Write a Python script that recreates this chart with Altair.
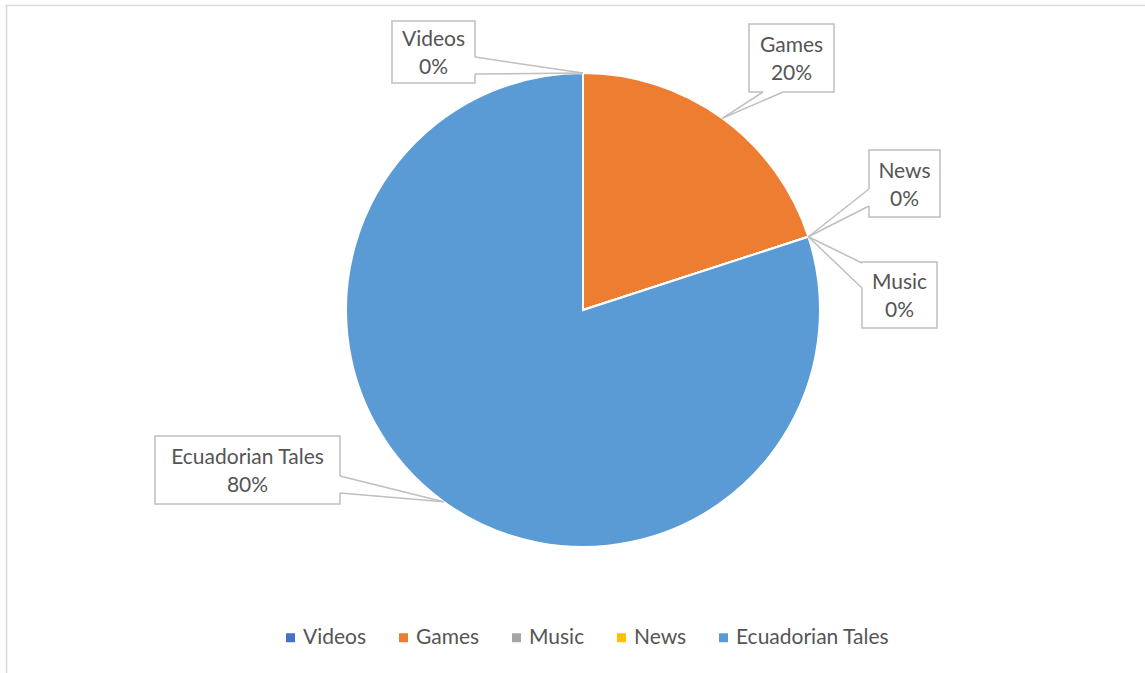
import altair as alt
import pandas as pd
import numpy as np

# ---- data ----
categories = ["Videos", "Games", "Music", "News", "Ecuadorian Tales"]
values = [0, 20, 0, 0, 80]
colors = ["#4472C4", "#ED7D31", "#A5A5A5", "#FFC000", "#5B9BD5"]

# ---- layout (pixels) ----
W, H = 1145, 673
CX, CY, R = 583, 310, 237
box_x1 = [392, 749, 862, 869, 155]
box_x2 = [475, 834, 937, 940, 340]
box_y1 = [21, 24, 262, 150, 436]
box_y2 = [83, 92, 328, 217, 504]
tail_ax = [475, 763, 862, 869, 340]
tail_ay = [57, 92, 263, 189, 476]
tail_bx = [475, 783, 862, 869, 340]
tail_by = [74, 92, 288, 206, 493]

FONT = "Lato"
TXT = "#555555"
LINE = "#BFBFBF"

total = float(sum(values))
cum = np.cumsum([0] + values[:-1])
mid = (cum + np.array(values) / 2.0) / total * 2 * np.pi
tip_x = CX + R * np.sin(mid)
tip_y = CY - R * np.cos(mid)
pcts = [f"{round(v / total * 100)}%" for v in values]

df = pd.DataFrame({
    "category": categories,
    "value": values,
    "idx": list(range(len(categories))),
    "pct": pcts,
    "bx1": box_x1, "bx2": box_x2, "by1": box_y1, "by2": box_y2,
    "ax": tail_ax, "ay": tail_ay, "bx": tail_bx, "by": tail_by,
    "tx": tip_x, "ty": tip_y,
})
df["cx"] = (df["bx1"] + df["bx2"]) / 2
df["cy"] = (df["by1"] + df["by2"]) / 2
df["l1"] = df["cy"] - 6
df["l2"] = df["cy"] + 22

xs = alt.Scale(domain=[0, W], range=[0, W], nice=False, zero=False)
ys = alt.Scale(domain=[0, H], range=[0, H], nice=False, zero=False)

border = alt.Chart(pd.DataFrame({"a": [0]})).mark_rect(
    filled=False, stroke="#D9D9D9", strokeWidth=1.5
).encode(x=alt.value(6.5), x2=alt.value(W + 20), y=alt.value(5.5), y2=alt.value(H + 20))

pie = alt.Chart(df).mark_arc(outerRadius=R, stroke="white", strokeWidth=2).encode(
    theta=alt.Theta("value:Q"),
    color=alt.Color(
        "category:N",
        scale=alt.Scale(domain=categories, range=colors),
        sort=categories,
        legend=alt.Legend(
            orient="none", legendX=280, legendY=627, direction="horizontal",
            title=None, symbolType="square", symbolSize=81, symbolStrokeWidth=0,
            labelFont=FONT, labelFontSize=21, labelColor=TXT, labelOffset=2,
            columnPadding=26, labelLimit=400,
        ),
    ),
    order=alt.Order("idx:Q"),
    x=alt.value(CX),
    y=alt.value(CY),
)

boxes = alt.Chart(df).mark_rect(fill="white", stroke=LINE, strokeWidth=1.5).encode(
    x=alt.X("bx1:Q", scale=xs, axis=None), x2="bx2:Q",
    y=alt.Y("by1:Q", scale=ys, axis=None), y2="by2:Q",
)

erase = alt.Chart(df).mark_rule(stroke="white", strokeWidth=3).encode(
    x=alt.X("ax:Q", scale=xs, axis=None), x2="bx:Q",
    y=alt.Y("ay:Q", scale=ys, axis=None), y2="by:Q",
)

tail1 = alt.Chart(df).mark_rule(stroke=LINE, strokeWidth=1.5).encode(
    x=alt.X("ax:Q", scale=xs, axis=None), x2="tx:Q",
    y=alt.Y("ay:Q", scale=ys, axis=None), y2="ty:Q",
)
tail2 = alt.Chart(df).mark_rule(stroke=LINE, strokeWidth=1.5).encode(
    x=alt.X("bx:Q", scale=xs, axis=None), x2="tx:Q",
    y=alt.Y("by:Q", scale=ys, axis=None), y2="ty:Q",
)

name_txt = alt.Chart(df).mark_text(
    font=FONT, fontSize=21, color=TXT, align="center", baseline="alphabetic"
).encode(
    x=alt.X("cx:Q", scale=xs, axis=None),
    y=alt.Y("l1:Q", scale=ys, axis=None),
    text="category:N",
)
pct_txt = alt.Chart(df).mark_text(
    font=FONT, fontSize=21, color=TXT, align="center", baseline="alphabetic"
).encode(
    x=alt.X("cx:Q", scale=xs, axis=None),
    y=alt.Y("l2:Q", scale=ys, axis=None),
    text="pct:N",
)

chart = alt.layer(border, pie, boxes, erase, tail1, tail2, name_txt, pct_txt).properties(
    width=W, height=H, padding=0, autosize="none", background="white"
).configure_view(stroke=None)

chart.save("out.html", embed_options={"renderer": "svg", "actions": False})
